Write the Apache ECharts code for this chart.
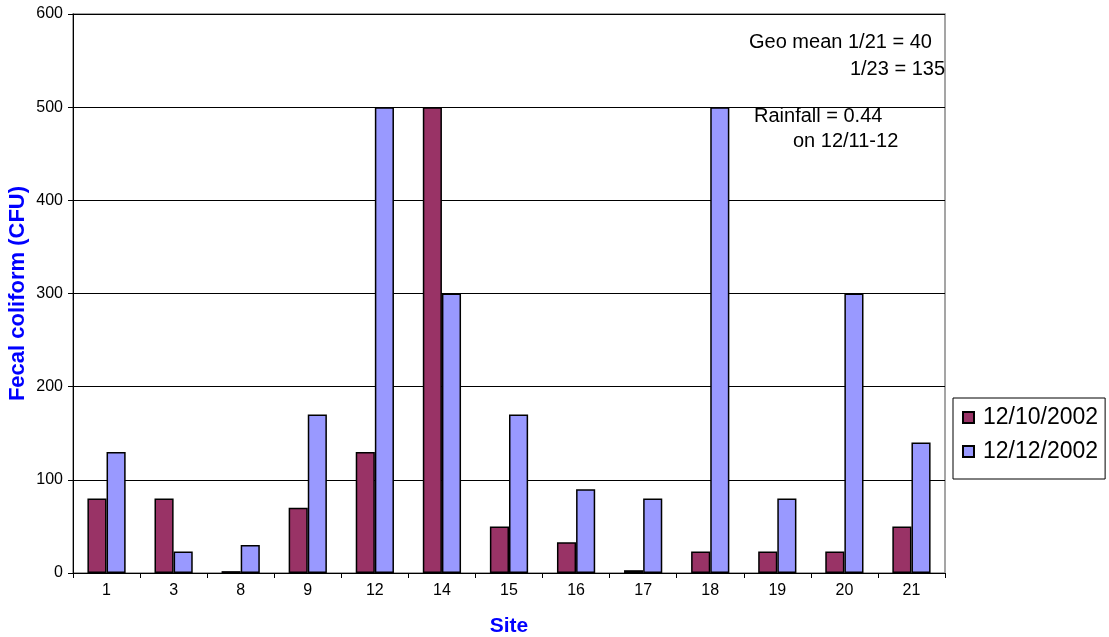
<!DOCTYPE html>
<html><head><meta charset="utf-8">
<script src="https://cdn.jsdelivr.net/npm/echarts@6/dist/echarts.min.js"></script>
<style>html,body{margin:0;padding:0;background:#fff}#c{width:1109px;height:637px}</style>
</head><body><div id="c"></div>
<script>
const sites = ['1','3','8','9','12','14','15','16','17','18','19','20','21'];
const dec10 = [80,80,2,70,130,500,50,33,3,23,23,23,50];
const dec12 = [130,23,30,170,500,300,170,90,80,500,80,300,140];
const seriesNames = ['12/10/2002','12/12/2002'];
const yTicks = [0,100,200,300,400,500,600];

const chart = echarts.init(document.getElementById('c'), null, {renderer:'canvas'});
const font = 'Liberation Sans, Arial, sans-serif';
chart.setOption({
  animation:false,
  backgroundColor:'#fff',
  grid:{left:73,right:164,top:14,bottom:64,outerBoundsMode:'none',containLabel:false,
        show:true,borderColor:'#888',borderWidth:1.5,backgroundColor:'transparent'},
  legend:{
    orient:'vertical', left:953, top:398, itemWidth:11, itemHeight:11, itemGap:11,
    padding:[8,7,16,9], borderColor:'#000', borderWidth:1,
    textStyle:{fontFamily:font,fontSize:23,color:'#000',padding:[0,0,0,4]},
    data:seriesNames.map(n=>({name:n,icon:'rect'}))
  },
  xAxis:{
    type:'category', data:sites, boundaryGap:true,
    name:'Site', nameLocation:'middle', nameGap:43, nameMoveOverlap:false,
    nameTextStyle:{fontFamily:font,fontSize:21,fontWeight:'bold',color:'#0000FF'},
    axisLine:{lineStyle:{color:'#000',width:1}},
    axisTick:{show:true,alignWithLabel:false,length:5,lineStyle:{color:'#000'}},
    axisLabel:{fontFamily:font,fontSize:16,color:'#000',margin:10}
  },
  yAxis:{
    type:'value', min:0, max:600, interval:100,
    name:'Fecal coliform (CFU)', nameLocation:'middle', nameGap:44, nameMoveOverlap:false,
    nameTextStyle:{fontFamily:font,fontSize:22,fontWeight:'bold',color:'#0000FF'},
    axisLine:{show:true,lineStyle:{color:'#000',width:1}},
    axisTick:{show:true,length:5,lineStyle:{color:'#000'}},
    axisLabel:{fontFamily:font,fontSize:16,color:'#000',margin:10,
      formatter:v=>yTicks.includes(v)?String(v):''},
    splitLine:{show:true,lineStyle:{color:'#000',width:1}}
  },
  series:[
    {name:seriesNames[0],type:'bar',data:dec10,barGap:'0%',barCategoryGap:'43%',
     itemStyle:{color:'#993366',borderColor:'#000',borderWidth:1.5}},
    {name:seriesNames[1],type:'bar',data:dec12,barGap:'0%',barCategoryGap:'43%',
     itemStyle:{color:'#9999FF',borderColor:'#000',borderWidth:1.5}}
  ],
  graphic:[
    {type:'text',left:749,top:32,style:{text:'Geo mean 1/21 = 40',font:'20px '+font,fill:'#000'}},
    {type:'text',right:164,top:59,style:{text:'1/23 = 135',font:'20px '+font,fill:'#000'}},
    {type:'text',left:754,top:106,style:{text:'Rainfall = 0.44',font:'20px '+font,fill:'#000'}},
    {type:'text',left:793,top:131,style:{text:'on 12/11-12',font:'20px '+font,fill:'#000'}}
  ]
});
</script></body></html>
